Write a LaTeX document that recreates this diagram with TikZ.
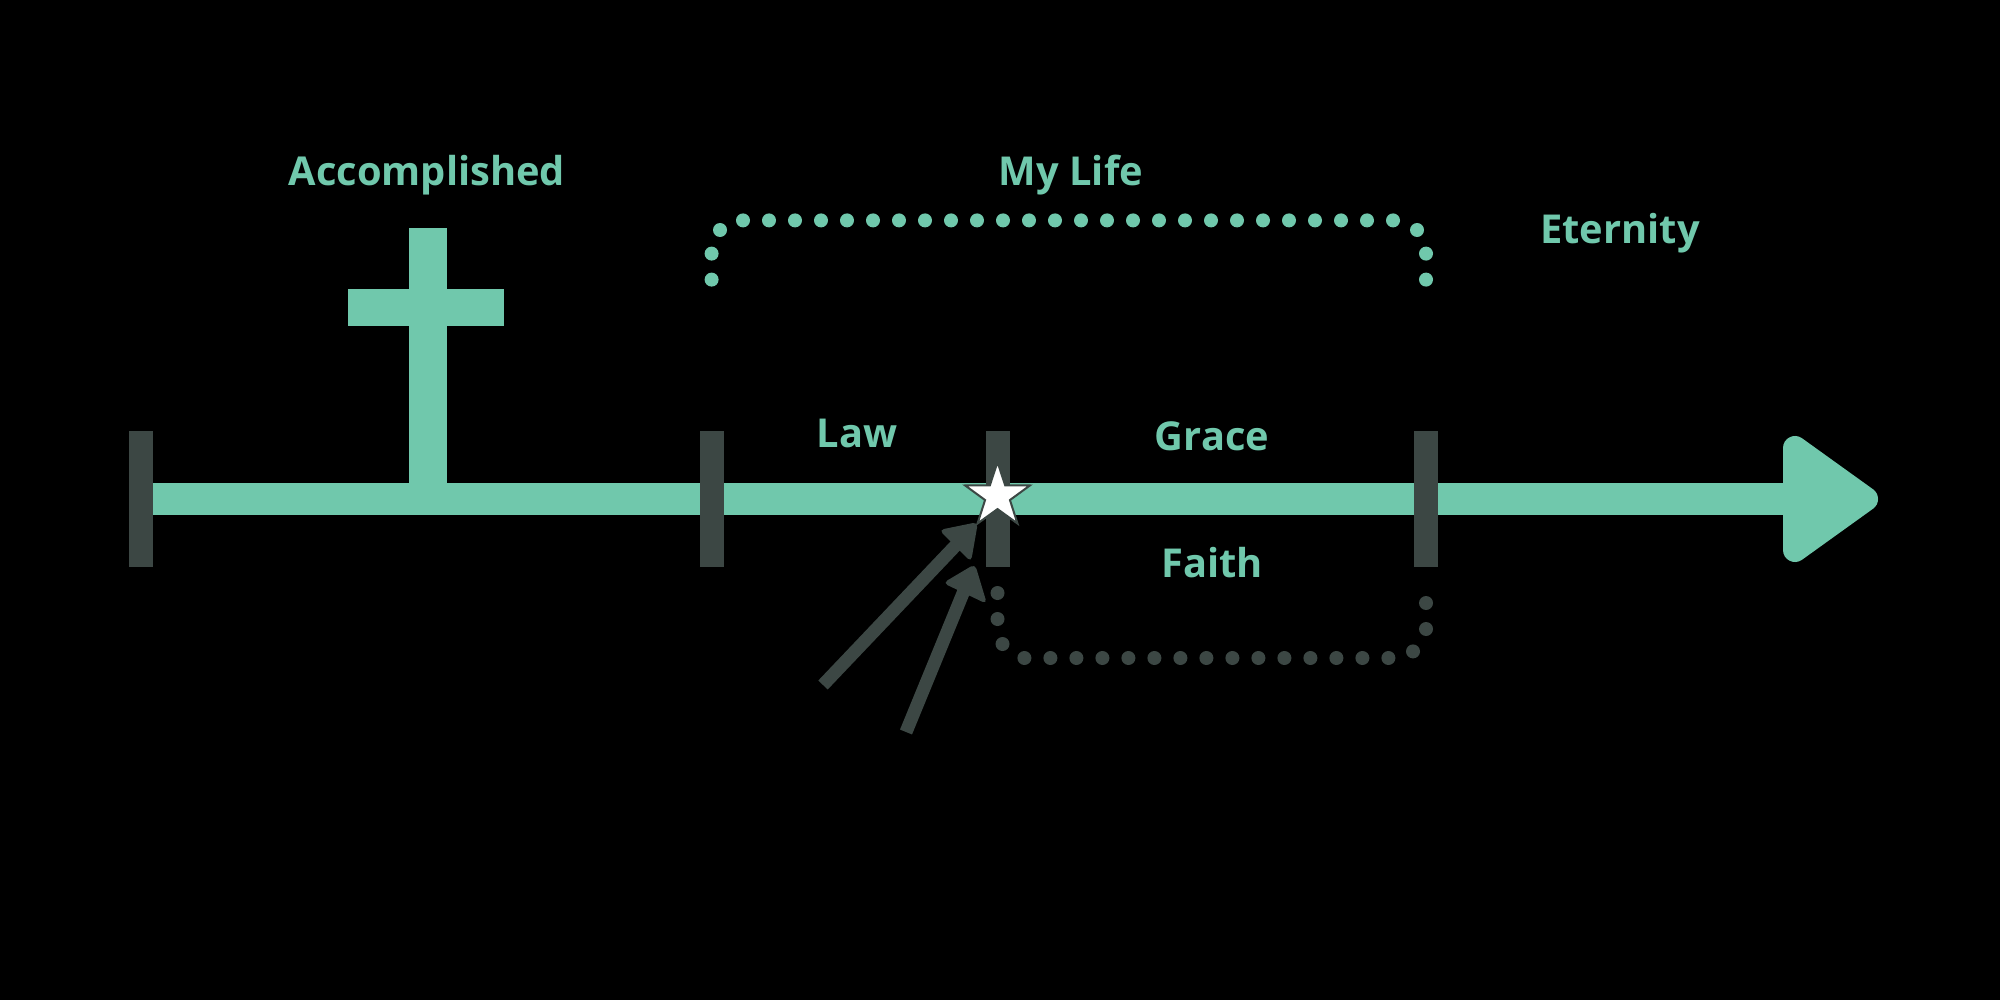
\documentclass[tikz,border=0pt]{standalone}
\usepackage{fontspec}
\setmainfont{Open Sans}
\usetikzlibrary{shapes.geometric}
\definecolor{mint}{HTML}{70C8AC}
\definecolor{slate}{HTML}{3C4744}
\tikzset{
    tick/.style={fill=slate,minimum width=12pt,minimum height=68pt,inner sep=0},
    word/.style={text=mint,font=\bfseries\fontsize{19.9}{24}\selectfont,anchor=base,inner sep=0},
    pointer/.style={draw=slate,line width=6.5pt,shorten >=10pt},
    pointhead/.style={fill=slate,rounded corners=2.5pt},
}
\begin{document}
\begin{tikzpicture}[x=0.5pt,y=-0.5pt]
    \fill [black] (0,0) rectangle (2000,1000);
    \useasboundingbox (0,0) rectangle (2000,1000);
    % cross
    \fill [mint] (409,228) rectangle (447,490);
    \fill [mint] (348,289) rectangle (504,326);
    % time line
    \coordinate (Head) at (1795,499);
    \coordinate (Start) at (140.5,499);
    \draw [mint,line width=16pt] (Start) -- (Head);
    \filldraw [mint,line width=12pt,line join=round] (1795,448) -- (1866,499) -- (1795,550) -- cycle;
    \node (T1) [tick] at (Start) {};
    \node (T2) [tick] at (711.5,499) {};
    \node (T3) [tick] at (997.5,499) {};
    \node (T4) [tick] at (1426,499) {};
    % two arrows
    \coordinate (LawEnd) at (823,685);
    \coordinate (LawTip) at (978,522);
    \coordinate (FaithEnd) at (906,732);
    \coordinate (FaithTip) at (975,564);
    \draw [pointer] (LawEnd) -- (LawTip);
    \draw [pointer] (FaithEnd) -- (FaithTip);
    \fill [pointhead] (LawTip) -- (939,530) -- (971,562) -- cycle;
    \fill [pointhead] (FaithTip) -- (943,583) -- (987,604) -- cycle;
    \node (Star) [star,star points=5,star point ratio=2.6,minimum size=34pt,inner sep=0,
        draw=slate,fill=white,line width=1pt] at (997.5,496) {};
    % dotted brackets
    \foreach \x/\y in {711.6/279.6,711.6/253.6,720/230,1417/230,1426/253.6,1426/279.6}
        \fill [mint] (\x,\y) circle (3.5pt);
    \foreach \i in {0,...,25}
        \fill [mint] (743+26*\i,220.4) circle (3.5pt);
    \foreach \x/\y in {997.5/593,997.5/619,1002.5/644,1413/651.4,1426/629,1426/603}
        \fill [slate] (\x,\y) circle (3.5pt);
    \foreach \i in {0,...,14}
        \fill [slate] (1024.4+26*\i,658) circle (3.5pt);
    % labels
    \node (Done) [word] at (427,186) {Accomplished};
    \node (Life) [word] at (1071,186) {My Life};
    \node (Eter) [word] at (1620,243.5) {Eternity};
    \node (Law) [word] at (857,447) {Law};
    \node (Grace) [word] at (1212,450) {Grace};
    \node (Faith) [word] at (1212,577.5) {Faith};
\end{tikzpicture}
\end{document}
